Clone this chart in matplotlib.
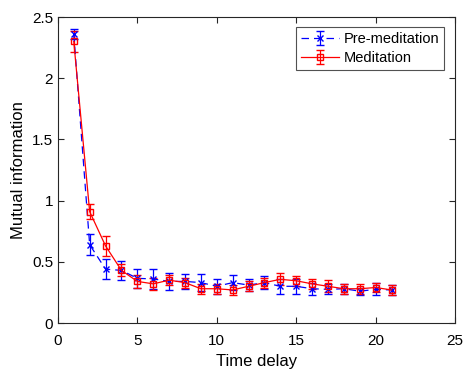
import numpy as np
import matplotlib.pyplot as plt

plt.rcParams['font.family'] = ['Liberation Sans', 'DejaVu Sans']

delay = np.arange(1, 22)
pre_mi = [2.36, 0.64, 0.44, 0.43, 0.365, 0.36, 0.34, 0.34, 0.33, 0.30, 0.33,
          0.31, 0.33, 0.30, 0.30, 0.28, 0.275, 0.28, 0.26, 0.275, 0.27]
pre_err = [0.04, 0.085, 0.08, 0.08, 0.08, 0.08, 0.07, 0.06, 0.07, 0.06, 0.06,
           0.05, 0.05, 0.06, 0.06, 0.05, 0.04, 0.04, 0.03, 0.05, 0.04]
med_mi = [2.30, 0.91, 0.63, 0.43, 0.34, 0.32, 0.35, 0.33, 0.28, 0.28, 0.27,
          0.30, 0.33, 0.357, 0.345, 0.32, 0.30, 0.28, 0.28, 0.29, 0.27]
med_err = [0.085, 0.06, 0.08, 0.05, 0.05, 0.05, 0.04, 0.04, 0.04, 0.04, 0.04,
           0.04, 0.04, 0.05, 0.04, 0.04, 0.05, 0.04, 0.04, 0.04, 0.04]

fig = plt.figure(figsize=(4.63, 3.7), dpi=100)
ax = fig.add_axes([0.125, 0.127, 0.858, 0.827])

pre = ax.errorbar(delay, pre_mi, yerr=pre_err, color='b', ls='--', marker='x',
                  ms=5, lw=0.9, capsize=3, elinewidth=0.9, label='Pre-meditation')
pre[0].set_dashes((6, 4))
ax.errorbar(delay, med_mi, yerr=med_err, color='r', ls='-', marker='s',
            ms=5, mfc='none', lw=0.9, capsize=3, elinewidth=0.9, label='Meditation')

ax.set_xlim(0, 25)
ax.set_ylim(0, 2.5)
ax.set_xticks([0, 5, 10, 15, 20, 25])
ax.set_yticks([0, 0.5, 1, 1.5, 2, 2.5])
ax.set_yticklabels(['0', '0.5', '1', '1.5', '2', '2.5'])
ax.tick_params(direction='in', top=True, right=True, labelsize=11, color='#262626',
               length=4)
ax.tick_params(axis='x', pad=8)
for s in ax.spines.values():
    s.set_color('#262626')
    s.set_linewidth(0.8)
ax.set_xlabel('Time delay', fontsize=12, labelpad=4)
ax.set_ylabel('Mutual information', fontsize=12)
leg = ax.legend(loc='upper right', fontsize=10.5, fancybox=False, edgecolor='#262626',
                borderpad=0.35, labelspacing=0.35, handlelength=2.6, handletextpad=0.3,
                borderaxespad=0, bbox_to_anchor=(0.972, 0.968))
leg.get_frame().set_linewidth(0.8)

fig.savefig('out.png', dpi=100)
